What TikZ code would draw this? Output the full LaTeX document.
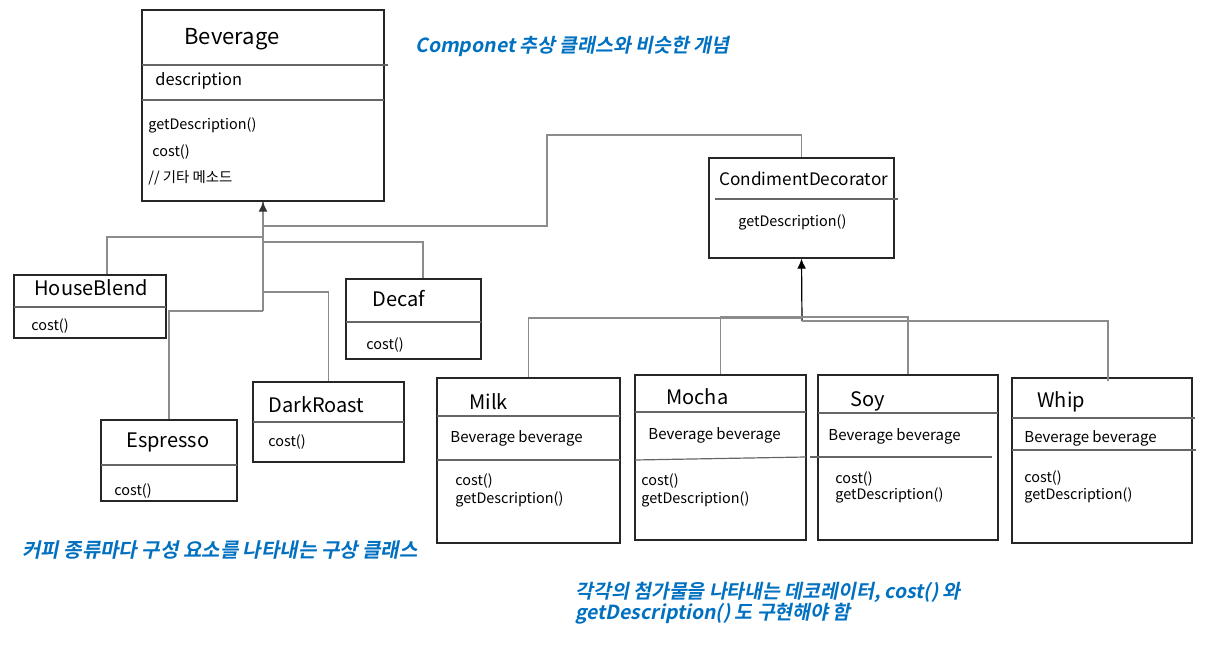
\documentclass[tikz,border=0pt]{standalone}
\usepackage{fontspec}
\setmainfont{Noto Sans CJK KR}
\newfontfamily\notefont[FakeSlant=0.2]{Noto Sans CJK KR Bold}
\usetikzlibrary{arrows.meta}
\usepackage{xcolor}
\definecolor{noteblue}{RGB}{0,112,192}
\definecolor{linkgray}{RGB}{140,140,140}

\begin{document}
\begin{tikzpicture}[x=0.5pt,y=-0.5pt]
\tikzset{
    cls/.style={%
        draw=black!85, line width=0.7pt,
        rectangle,
        inner sep=0pt
        },
    sep/.style={%
        draw=black!60, line width=0.6pt
        },
    title/.style={%
        anchor=base west, inner sep=0pt,
        font=\fontsize{10}{12}\selectfont
        },
    member/.style={%
        anchor=base west, inner sep=0pt,
        font=\fontsize{7.2}{8}\selectfont
        },
    link/.style={%
        draw=linkgray, line width=0.6pt
        },
    gen/.style={%
        line width=0.6pt, -{Latex[length=5pt,width=4.5pt]}
        },
    note/.style={%
        anchor=base west, inner sep=0pt, text=noteblue,
        font=\notefont\fontsize{9.7}{11}\selectfont
        },
}
\useasboundingbox (0,0) rectangle (1206,652);
%%%CLASSES
\node[cls, minimum width=121pt, minimum height=95.5pt] (bev) at (263,105.5) {};
\node[cls, minimum width=76pt, minimum height=31.5pt] (house) at (90,306.5) {};
\node[cls, minimum width=67.5pt, minimum height=40pt] (decaf) at (413.5,319) {};
\node[cls, minimum width=75.5pt, minimum height=40pt] (dark) at (328.5,422) {};
\node[cls, minimum width=68pt, minimum height=40.5pt] (espresso) at (169,460.5) {};
\node[cls, minimum width=92.5pt, minimum height=50pt] (cond) at (801.5,208) {};
\node[cls, minimum width=91.5pt, minimum height=82.5pt] (milk) at (528.5,460.5) {};
\node[cls, minimum width=85.5pt, minimum height=82.5pt] (mocha) at (720.5,457.5) {};
\node[cls, minimum width=90pt, minimum height=82.5pt] (soy) at (908,457.5) {};
\node[cls, minimum width=90pt, minimum height=82.5pt] (whip) at (1102,460.5) {};
%%%DIVIDERS
\draw[sep] (142,65) -- (388,65);
\draw[sep] (142,100) -- (384,100);
\draw[sep] (14,307) -- (166,307);
\draw[sep] (346,322) -- (481,322);
\draw[sep] (253,422) -- (404,422);
\draw[sep] (101,465) -- (237,465);
\draw[sep] (715,199) -- (898,199);
\draw[sep] (437,416) -- (620,416);
\draw[sep] (437,460) -- (620,460);
\draw[sep] (635,412) -- (806,412);
\draw[sep] (635,460) -- (806,457);
\draw[sep] (818,413) -- (998,413);
\draw[sep] (810,457) -- (992,457);
\draw[sep] (1012,418) -- (1195,418);
\draw[sep] (1012,450) -- (1196,450);
%%%TEXTS
\node[title, font=\fontsize{11}{13}\selectfont] (bevname) at (184,45) {Beverage};
\node[member, font=\fontsize{8.2}{10}\selectfont] (bevattr) at (155,86) {description};
\node[member] (bevop1) at (148,130) {getDescription()};
\node[member] (bevop2) at (152,157) {cost()};
\node[member] (bevop3) at (148,183) {// 기타 메소드};
\node[title] (housename) at (34,296) {HouseBlend};
\node[member] (houseop) at (31,331) {cost()};
\node[title] (decafname) at (372,307) {Decaf};
\node[member] (decafop) at (366,350) {cost()};
\node[title] (darkname) at (268,413) {DarkRoast};
\node[member] (darkop) at (268,446) {cost()};
\node[title] (espressoname) at (126,448) {Espresso};
\node[member] (espressoop) at (114,495) {cost()};
\node[title, font=\fontsize{8.6}{10}\selectfont] (condname) at (719,186) {CondimentDecorator};
\node[member] (condop) at (738,227) {getDescription()};
\node[title] (milkname) at (469,409) {Milk};
\node[member, font=\fontsize{7.5}{9}\selectfont] (milkattr) at (450,443) {Beverage beverage};
\node[member] (milkop1) at (455,486) {cost()};
\node[member] (milkop2) at (455,503) {getDescription()};
\node[title] (mochaname) at (666,405) {Mocha};
\node[member, font=\fontsize{7.5}{9}\selectfont] (mochaattr) at (648,439) {Beverage beverage};
\node[member] (mochaop1) at (641,486) {cost()};
\node[member] (mochaop2) at (641,503) {getDescription()};
\node[title] (soyname) at (850,407) {Soy};
\node[member, font=\fontsize{7.5}{9}\selectfont] (soyattr) at (828,441) {Beverage beverage};
\node[member] (soyop1) at (835,483) {cost()};
\node[member] (soyop2) at (835,500) {getDescription()};
\node[title] (whipname) at (1037,408) {Whip};
\node[member, font=\fontsize{7.5}{9}\selectfont] (whipattr) at (1024,443) {Beverage beverage};
\node[member] (whipop1) at (1024,482) {cost()};
\node[member] (whipop2) at (1024,500) {getDescription()};
%%%NOTES
\node[note] (note1) at (415,53) {Componet 추상 클래스와 비슷한 개념};
\node[note, font=\notefont\fontsize{10}{11}\selectfont] (note2) at (22,557) {커피 종류마다 구성 요소를 나타내는 구상 클래스};
\node[note] (note3) at (575,598) {각각의 첨가물을 나타내는 데코레이터, cost() 와};
\node[note] (note4) at (575,619) {getDescription() 도 구현해야 함};
%%%INHERITANCE
\coordinate (bevfork) at (263,311);
\coordinate (condfork) at (802,321);
\draw[link] (bevfork) -- (bev.south);
\draw[gen, draw=black!80] ([yshift=-4pt]bev.south) -- (bev.south);
\draw[link] ([xshift=8.5pt]house.north) |- (263,237);
\draw[link] ([xshift=4.75pt]decaf.north) |- (263,242);
\draw[link] (dark.north) |- (263,292);
\draw[link] (espresso.north) |- (bevfork);
\draw[link] (cond.north) |- (547,135) |- (263,226);
\draw[gen] (condfork) -- (cond.south);
\draw[link] (milk.north) |- (802,318);
\draw[link] (mocha.north) |- (soy.north |- 0,317) -- (soy.north);
\draw[link] ([xshift=3pt,yshift=-2pt]whip.north) |- (condfork);
\end{tikzpicture}
\end{document}
